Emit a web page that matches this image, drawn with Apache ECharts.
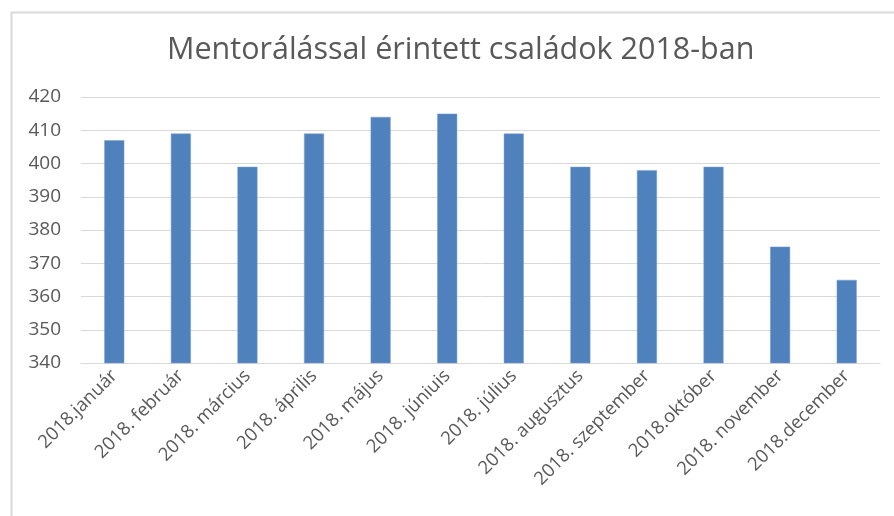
<!DOCTYPE html>
<html>
<head>
<meta charset="utf-8">
<script src="https://cdn.jsdelivr.net/npm/echarts@6/dist/echarts.min.js"></script>
<style>
html,body{margin:0;padding:0;background:#fff;}
#chart{width:894px;height:516px;}
</style>
</head>
<body>
<div id="chart"></div>
<script>
const titleText = 'Mentorálással érintett családok 2018-ban';
const categories = ['2018.január','2018. február','2018. március','2018. április','2018. május','2018. júniuis','2018. július','2018. augusztus','2018. szeptember','2018.október','2018. november','2018.december'];
const values = [407, 409, 399, 409, 414, 415, 409, 399, 398, 399, 375, 365];
const yMin = 340, yMax = 420, yStep = 10;

const chart = echarts.init(document.getElementById('chart'));
chart.setOption({
  animation: false,
  backgroundColor: '#fff',
  graphic: [{
    type: 'rect', left: 9, top: 10, silent: true,
    shape: {width: 900, height: 520},
    style: {fill: 'none', stroke: '#d9d9d9', lineWidth: 2}
  }],
  title: {
    text: titleText, left: 162, top: 30,
    textStyle: {fontFamily: 'Open Sans', fontWeight: 'normal', fontSize: 30.5, color: '#595959'}
  },
  grid: {left: 81, right: 14, top: 97, bottom: 153, containLabel: false},
  xAxis: {
    type: 'category', data: categories,
    axisLine: {show: true, lineStyle: {color: '#d9d9d9', width: 1}},
    axisTick: {show: false},
    axisLabel: {rotate: 45, interval: 0, margin: 10, fontFamily: 'Open Sans', fontSize: 18.5, color: '#595959'}
  },
  yAxis: {
    type: 'value', min: yMin, max: yMax, interval: yStep,
    axisLine: {show: false}, axisTick: {show: false},
    splitLine: {lineStyle: {color: '#d9d9d9', width: 1}},
    axisLabel: {margin: 20, fontFamily: 'Open Sans', fontSize: 19, color: '#595959'}
  },
  series: [{
    type: 'bar', data: values, barWidth: 20,
    itemStyle: {color: '#4f81bd', borderColor: '#7c9fd0', borderWidth: 0.5}
  }]
});
</script>
</body>
</html>
